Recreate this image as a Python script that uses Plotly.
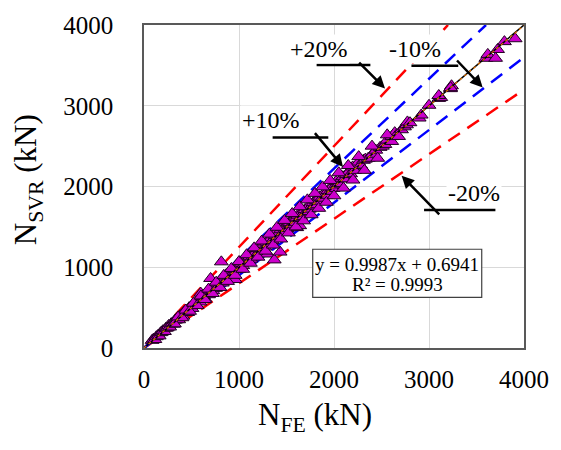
import plotly.graph_objects as go

# N_FE (finite element) vs N_SVR (support vector regression) axial capacity, kN
n_fe = [85, 100, 115, 130, 150, 160, 175, 190, 200, 215, 230, 245, 260, 270, 285, 300, 310, 325,
        340, 355, 365, 380, 395, 410, 420, 435, 450, 460, 475, 490, 505, 520, 535, 550, 560, 575,
        590, 598, 610, 625, 640, 655, 670, 680, 695, 701, 710, 725, 740, 753, 765, 780, 795, 814,
        814, 825, 835, 850, 866, 880, 895, 910, 918, 930, 945, 959, 959, 975, 990, 1000, 1010,
        1025, 1040, 1055, 1070, 1085, 1093, 1110, 1125, 1140, 1155, 1175, 1190, 1205, 1220, 1235,
        1247, 1260, 1275, 1290, 1299, 1310, 1320, 1335, 1350, 1371, 1380, 1395, 1402, 1410, 1423,
        1433, 1440, 1454, 1465, 1474, 1490, 1505, 1520, 1536, 1550, 1565, 1577, 1590, 1608, 1608,
        1620, 1639, 1650, 1665, 1680, 1695, 1710, 1725, 1740, 1763, 1780, 1795, 1810, 1835, 1850,
        1870, 1890, 1918, 1935, 1955, 1975, 1990, 2021, 2035, 2052, 2075, 2093, 2110, 2130, 2155,
        2175, 2196, 2215, 2240, 2258, 2280, 2310, 2330, 2360, 2402, 2440, 2485, 2510, 2536, 2560,
        2608, 2608, 2639, 2660, 2711, 2742, 2763, 2773, 2800, 2897, 2918, 3000, 3103, 3124, 3103,
        3227, 3237, 3227, 3598, 3619, 3701, 3722, 3794, 3907,
        320, 360, 400, 440, 480, 520, 560, 600, 640, 680, 720, 760, 800, 840, 880, 920, 960, 1000,
        1040, 1080, 1120, 1160, 1200, 1240, 1280, 1320, 1360, 1400, 1440, 1480, 1520, 1560, 1600,
        1640, 1680, 1720, 1760, 1800, 1840, 1880, 1920, 1960, 2000, 2050, 2100, 2150, 2200, 2260,
        2320, 2400, 2460, 2560, 2680]
n_svr = [95, 110, 105, 140, 160, 150, 190, 200, 215, 205, 245, 250, 280, 260, 300, 310, 295, 345,
         350, 375, 350, 400, 410, 395, 445, 450, 465, 440, 500, 505, 490, 545, 550, 530, 585, 595,
         570, 679, 640, 650, 615, 680, 695, 660, 720, 861, 740, 710, 770, 739, 795, 760, 820, 848,
         1067, 805, 861, 880, 909, 860, 930, 945, 909, 900, 980, 970, 848, 1000, 1015, 975, 1067,
         1050, 1020, 1085, 1095, 1060, 1127, 1130, 1100, 1170, 1175, 1188, 1165, 1230, 1245, 1210,
         1248, 1285, 1250, 1310, 1164, 1290, 1333, 1360, 1330, 1091, 1395, 1420, 1455, 1385, 1430,
         1188, 1465, 1491, 1440, 1491, 1510, 1480, 1545, 1552, 1525, 1590, 1552, 1610, 1612, 1491,
         1645, 1515, 1630, 1690, 1673, 1715, 1690, 1745, 1720, 1758, 1800, 1775, 1830, 1818, 1870,
         1855, 1910, 1891, 1950, 1940, 1995, 1976, 2061, 2020, 2036, 2095, 2121, 2095, 2150, 2182,
         2158, 2242, 2200, 2260, 2303, 2265, 2325, 2339, 2350, 2400, 2450, 2485, 2500, 2521, 2575,
         2558, 2618, 2667, 2642, 2703, 2739, 2764, 2800, 2790, 2848, 2885, 3006, 3091, 3103, 3127,
         3212, 3248, 3224, 3588, 3636, 3588, 3697, 3794, 3830,
         300, 385, 375, 470, 455, 555, 525, 645, 600, 730, 675, 815, 750, 900, 825, 985, 900, 1070,
         975, 1155, 1050, 1240, 1125, 1325, 1200, 1410, 1275, 1495, 1350, 1580, 1425, 1665, 1500,
         1750, 1575, 1835, 1650, 1915, 1730, 1995, 1805, 2075, 1885, 2170, 1980, 2260, 2080, 2370,
         2200, 2500, 2350, 2640, 2620]

axis_max = 4000
tick_vals = [0, 1000, 2000, 3000, 4000]

# error bands: ratio of predicted to reference
bands = [
    (1 / 0.8, "#FF0000"),
    (0.8, "#FF0000"),
    (1 / 0.9, "#0000FF"),
    (0.9, "#0000FF"),
]

# regression fit
slope, intercept, r2 = 0.9987, 0.6941, 0.9993

# callouts: label, text pos, bar ends, arrow tail, arrow head (data units)
callouts = [
    ("+20%", (1838, 3700), (1817, 2383, 3506), (2249, 3554), (2537, 3214)),
    ("-10%", (2856, 3700), (2815, 3308, 3494), (3280, 3579), (3565, 3226)),
    ("+10%", (1334, 2826), (1354, 1940, 2607), (1786, 2680), (2095, 2243)),
    ("-20%", (3472, 1915), (2948, 3699, 1709), (3123, 1636), (2712, 2134)),
]

FONT = "Liberation Serif"

fig = go.Figure()

for k, color in bands:
    x_end = min(axis_max, axis_max / k)
    fig.add_trace(go.Scatter(
        x=[0, x_end], y=[0, k * x_end], mode="lines",
        line=dict(color=color, width=2.5, dash="14px,9px"),
        hoverinfo="skip", showlegend=False))

fig.add_trace(go.Scatter(
    x=n_fe, y=n_svr, mode="markers",
    marker=dict(symbol="triangle-up", size=12, color="#CC00CC",
                line=dict(color="#200020", width=1)),
    showlegend=False))

fig.add_trace(go.Scatter(
    x=[0, axis_max], y=[0, axis_max], mode="lines",
    line=dict(color="black", width=1.5), hoverinfo="skip", showlegend=False))
fig.add_trace(go.Scatter(
    x=[0, axis_max], y=[intercept, slope * axis_max + intercept], mode="lines",
    line=dict(color="#E07000", width=1.2, dash="dot"), hoverinfo="skip", showlegend=False))

for label, (tx, ty), (bx0, bx1, by), (ax0, ay0), (hx, hy) in callouts:
    fig.add_shape(type="line", x0=bx0, x1=bx1, y0=by, y1=by,
                  line=dict(color="black", width=2.5))
    fig.add_annotation(x=hx, y=hy, ax=ax0, ay=ay0, axref="x", ayref="y",
                       showarrow=True, arrowhead=2, arrowsize=1, arrowwidth=2.5,
                       arrowcolor="black", text="")
    fig.add_annotation(x=tx, y=ty, text=label, showarrow=False,
                       bgcolor="white", borderpad=1,
                       font=dict(family=FONT, size=24, color="black"))

# regression equation box
fig.add_shape(type="rect", x0=1776, x1=3555, y0=628, y1=1223,
              line=dict(color="#404040", width=1.2), fillcolor="white", layer="above")
fig.add_annotation(x=2665, y=1040, text=f"y = {slope}x + {intercept}", showarrow=False,
                   font=dict(family=FONT, size=19, color="black"))
fig.add_annotation(x=2665, y=786, text=f"R² = {r2}", showarrow=False,
                   font=dict(family=FONT, size=19, color="black"))

# axis titles
fig.add_annotation(xref="paper", yref="paper", x=-0.305, y=0.52, xanchor="center",
                   yanchor="middle", text="N<sub>SVR</sub> (kN)",
                   textangle=-90, showarrow=False,
                   font=dict(family=FONT, size=31, color="black"))
fig.add_annotation(xref="paper", yref="paper", x=0.451, y=-0.215, xanchor="center",
                   yanchor="middle", text="N<sub>FE</sub> (kN)", showarrow=False,
                   font=dict(family=FONT, size=31, color="black"))

axis_common = dict(
    range=[0, axis_max], tickvals=tick_vals, showgrid=True, gridcolor="#d9d9d9", gridwidth=1,
    zeroline=False, showline=True, mirror=True, linecolor="#595959", linewidth=1.5,
    tickfont=dict(family=FONT, size=25, color="black"), ticks="", fixedrange=True,
)

fig.update_layout(
    width=561, height=450,
    margin=dict(l=144, r=29, t=18, b=102),
    paper_bgcolor="white", plot_bgcolor="white",
    xaxis=dict(**axis_common, ticklabelstandoff=8),
    yaxis=dict(**axis_common, ticklabelstandoff=24),
    showlegend=False,
)

fig.write_html("out.html")
